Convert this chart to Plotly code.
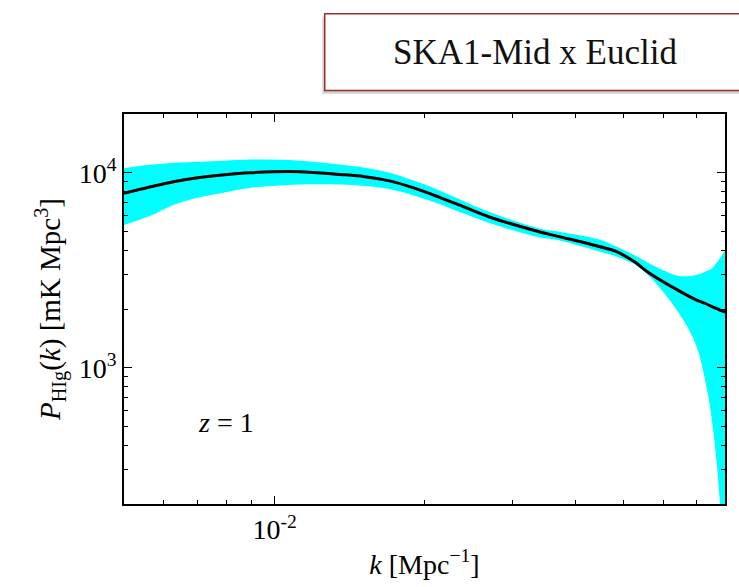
import plotly.graph_objects as go

# Data
k = [0.00499, 0.00562, 0.00631, 0.00708, 0.00794, 0.00891, 0.01122, 0.01349, 0.01514, 0.01698,
     0.01905, 0.02138, 0.02399, 0.02692, 0.03388, 0.03715, 0.04467, 0.04831, 0.05248,
     0.05623, 0.06457, 0.06982, 0.07311, 0.07516, 0.07691, 0.07798, 0.07980]
p_mid = [7834, 8450, 9010, 9440, 9770, 10000, 10120, 9800, 9545, 9080,
         8330, 7480, 6660, 5930, 4980, 4700, 4180, 3945, 3500,
         3060, 2477, 2230, 2128, 2054, 2010, 1973, 1927]
p_upper = [10540, 10970, 11240, 11370, 11530, 11670, 11530, 11010, 10600, 10000,
           9080, 8110, 7110, 6280, 5180, 4980, 4540, 4180, 3780,
           3430, 2950, 2985, 3125, 3240, 3470, 3640, 3990]
p_lower = [5395, 5990, 6880, 7480, 7920, 8340, 8690, 8690, 8550, 8240,
           7620, 6920, 6150, 5520, 4660, 4490, 3945, 3720, 3400,
           2950, 1897, 1307, 820, 533, 313, 203, 100]

x_ticks = [0.01]
x_ticktext = ["10<sup>-2</sup>"]
x_minor = [0.006, 0.007, 0.008, 0.009, 0.02, 0.03, 0.04, 0.05, 0.06, 0.07]
y_ticks = [1e3, 1e4]
y_ticktext = ["10<sup>3</sup>", "10<sup>4</sup>"]
y_minor = [300, 400, 500, 600, 700, 800, 900, 2000, 3000, 4000, 5000, 6000, 7000, 8000, 9000]

serif = "Liberation Serif"
x_range = [-2.3019, -1.098]
y_range = [2.30103, 4.30103]

fig = go.Figure()
fig.add_trace(go.Scatter(x=k, y=p_upper, mode="lines", line=dict(width=0, color="cyan", shape="spline"),
                         showlegend=False, hoverinfo="skip"))
fig.add_trace(go.Scatter(x=k, y=p_lower, mode="lines", line=dict(width=0, color="cyan", shape="spline"),
                         fill="tonexty", fillcolor="#00ffff", showlegend=False, hoverinfo="skip"))
fig.add_trace(go.Scatter(x=k, y=p_mid, mode="lines", line=dict(width=3, color="black", shape="spline"),
                         showlegend=False))

axis_common = dict(type="log", showgrid=False, zeroline=False, showline=True, linecolor="black",
                   linewidth=1.5, mirror="ticks", ticks="inside", ticklen=8, tickwidth=1.3,
                   tickcolor="black", tickfont=dict(family=serif, size=28, color="black"))

fig.update_xaxes(**axis_common, range=x_range, tickvals=x_ticks, ticktext=x_ticktext,
                 title=dict(text="<i>k</i> [Mpc<sup>−1</sup>]", font=dict(family=serif, size=28, color="black"),
                            standoff=10))
fig.update_yaxes(**axis_common, range=y_range, tickvals=y_ticks, ticktext=y_ticktext,
                 title=dict(text="<i>P</i><sub>HIg</sub>(<i>k</i>) [mK Mpc<sup>3</sup>]",
                            font=dict(family=serif, size=29, color="black"), standoff=10))

minor_common = dict(type="log", showgrid=False, zeroline=False, showline=True, linecolor="black",
                    linewidth=1.5, mirror="ticks", ticks="inside", ticklen=4, tickwidth=1.3,
                    tickcolor="black", showticklabels=False)
fig.update_layout(
    xaxis2=dict(**minor_common, overlaying="x", anchor="y", side="bottom", range=x_range, tickvals=x_minor),
    yaxis2=dict(**minor_common, overlaying="y", anchor="x", side="left", range=y_range, tickvals=y_minor),
)
fig.add_trace(go.Scatter(x=[k[0]], y=[p_mid[0]], xaxis="x2", yaxis="y2", mode="markers",
                         marker=dict(opacity=0), showlegend=False, hoverinfo="skip"))

# title box with shadow
fig.add_shape(type="rect", xref="paper", yref="paper", x0=0.330, x1=1.06, y0=1.052, y1=1.250,
              line=dict(width=0), fillcolor="rgba(100,100,100,0.30)", layer="above")
fig.add_shape(type="rect", xref="paper", yref="paper", x0=0.334, x1=1.05, y0=1.060, y1=1.257,
              line=dict(width=1.5, color="#9b2d2d"), fillcolor="white", layer="above")
fig.add_annotation(xref="paper", yref="paper", x=0.684, y=1.158, xanchor="center", yanchor="middle",
                   text="SKA1-Mid x Euclid", showarrow=False,
                   font=dict(family=serif, size=35, color="#111111"))
fig.add_annotation(xref="paper", yref="paper", x=0.169, y=0.209, xanchor="center", yanchor="middle",
                   text="<i>z</i> = 1", showarrow=False, font=dict(family=serif, size=28, color="black"))

fig.update_layout(width=739, height=587, margin=dict(l=124, r=13, t=114, b=76),
                  paper_bgcolor="white", plot_bgcolor="white")
fig.write_html("out.html")
